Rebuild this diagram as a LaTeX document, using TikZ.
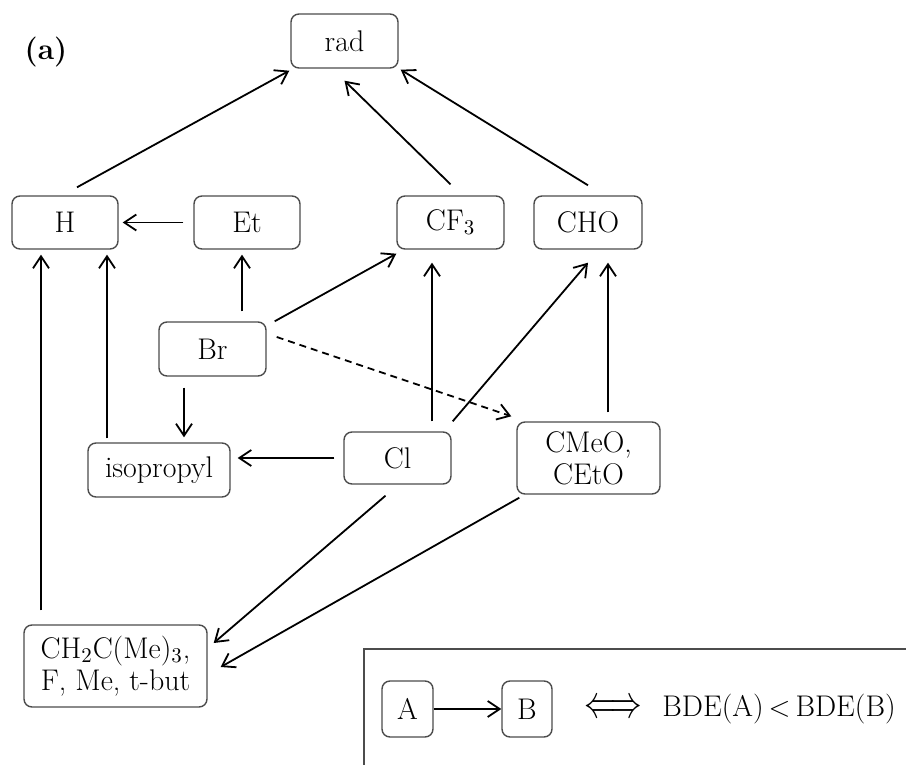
\documentclass[tikz,border=0pt]{standalone}
\usetikzlibrary{arrows.meta,calc}
\begin{document}
\begin{tikzpicture}[x=0.5bp,y=-0.5bp,
  box/.style={draw=black!70, line width=0.7bp, rounded corners=4bp, inner sep=0pt, align=center,
    font=\fontsize{15}{16}\selectfont},
  sz/.style 2 args={minimum width=#1*0.5bp, minimum height=#2*0.5bp},
  arr/.style={-{Straight Barb[length=6bp,width=8bp]}, line width=0.9bp},
  dsh/.style={dash pattern=on 3.5bp off 2.5bp}]
\useasboundingbox (0,0) rectangle (906,765);

\node[font=\fontsize{15}{16}\selectfont\bfseries] (lbl) at (46,52) {(a)};

\node[box,sz={107}{54}] (rad) at (344.5,41) {rad};
\node[box,sz={106}{53}] (H) at (65,222.5) {H};
\node[box,sz={106}{53}] (Et) at (247,222.5) {Et};
\node[box,sz={107}{53}] (CF3) at (450.5,222.5) {CF\textsubscript{3}};
\node[box,sz={108}{53}] (CHO) at (588,222.5) {CHO};
\node[box,sz={107}{54}] (Br) at (212.5,349) {Br};
\node[box,sz={142}{54}] (iso) at (159,470) {isopropyl};
\node[box,sz={107}{52}] (Cl) at (397.5,458) {Cl};
\node[box,sz={143}{72}] (CMeO) at (588.5,458) {CMeO,\\CEtO};
\node[box,sz={183}{82}] (CH) at (115.5,666) {CH\textsubscript{2}C(Me)\textsubscript{3},\\F, Me, t-but};

\draw[arr] ($(H.north)+(12,-8)$) -- ($(rad.south west)+(-1,2)$);
\draw[arr] ($(CF3.north)+(0,-11)$) -- ($(rad.south)+(0,12)$);
\draw[arr] ($(CHO.north)+(0,-10)$) -- ($(rad.south east)+(2,1)$);
\draw[arr] ($(Et.west)+(-10,0)$) -- ($(H.east)+(4,0)$);
\draw[arr] ($(Br.north)+(29.5,-10)$) -- ($(Et.south)+(-5,5)$);
\draw[arr] ($(Br.north east)+(8,0)$) -- ($(CF3.south west)+(0,4)$);
\draw[arr,dsh] ($(Br.east)+(10,-12)$) -- ($(CMeO.north west)+(-5,-5)$);
\draw[arr] ($(Br.south)+(-28.5,11)$) -- ($(iso.north)+(25,-5)$);
\draw[arr] ($(iso.north)+(-52,-4)$) -- ($(H.south)+(42,5)$);
\draw[arr] ($(CH.north)+(-74.5,-14)$) -- ($(H.south)+(-24,5)$);
\draw[arr] ($(Cl.west)+(-9,0)$) -- ($(iso.east)+(7,-12)$);
\draw[arr] ($(Cl.north)+(34.5,-10)$) -- ($(CF3.south)+(-18.5,13)$);
\draw[arr] ($(Cl.north east)+(1,-10)$) -- ($(CHO.south)+(0,13)$);
\draw[arr] ($(CMeO.north)+(19.5,-9)$) -- ($(CHO.south)+(20,13)$);
\draw[arr] ($(Cl.south)+(-12,11)$) -- ($(CH.east)+(6,-23)$);
\draw[arr] ($(CMeO.south west)+(3,3)$) -- ($(CH.east)+(13,1)$);

% legend
\draw[draw=black!70, line width=0.8bp] (364,765) -- (364,649) -- (906,649);
\node[box,sz={51}{56}] (A) at (407.5,709) {A};
\node[box,sz={50}{56}] (B) at (527,709) {B};
\draw[arr] (A) -- (B);
\node[font=\fontsize{15}{16}\selectfont] (eq) at (613,709) {\scalebox{1.1}[1.6]{$\Longleftrightarrow$}};
\node[anchor=west, inner sep=0pt, font=\fontsize{15}{16}\selectfont] (bde) at (662,709) {BDE(A)\,$<$\,BDE(B)};
\end{tikzpicture}
\end{document}
